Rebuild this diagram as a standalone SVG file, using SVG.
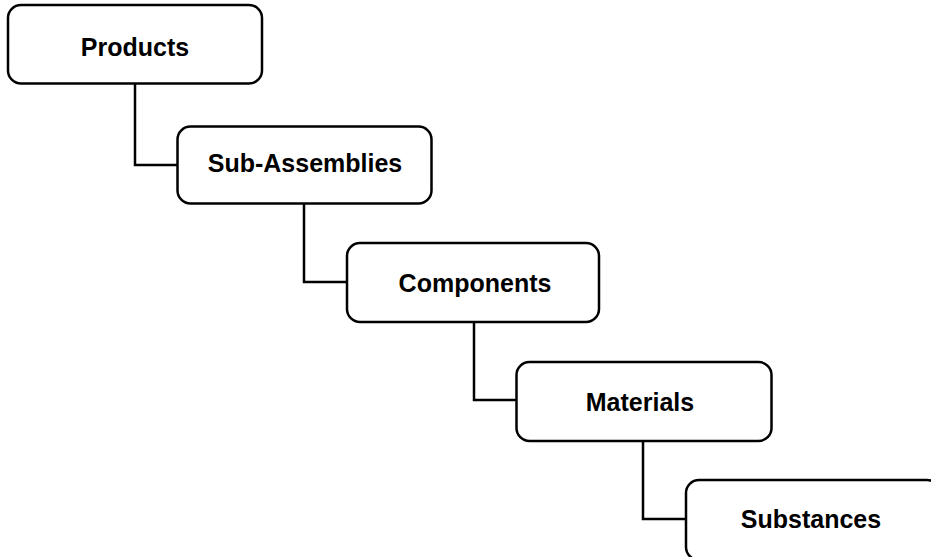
<svg xmlns="http://www.w3.org/2000/svg" width="931" height="557" viewBox="0 0 931 557">
<style>
.box{fill:#fff;stroke:#000;stroke-width:2.5}
.lbl{font-family:"Liberation Sans",Arial,sans-serif;font-weight:bold;font-size:25px;text-anchor:middle;fill:#000}
.con{fill:none;stroke:#000;stroke-width:2.5}
</style>
<rect width="931" height="557" fill="#fff"/>
<g id="connectors">
<path class="con" d="M135,83.5 V165 H177.5"/>
<path class="con" d="M304,203.5 V282 H347"/>
<path class="con" d="M474,322 V400 H516.5"/>
<path class="con" d="M643,441 V519 H686"/>
</g>
<g id="products"><rect class="box" x="8" y="5" width="254" height="78.5" rx="13"/><text class="lbl" x="135" y="56">Products</text></g>
<g id="subassemblies"><rect class="box" x="177.5" y="126.5" width="254" height="77" rx="13"/><text class="lbl" x="305" y="172">Sub-Assemblies</text></g>
<g id="components"><rect class="box" x="347" y="243" width="252" height="79" rx="13"/><text class="lbl" x="475" y="292">Components</text></g>
<g id="materials"><rect class="box" x="516.5" y="362" width="255" height="79" rx="13"/><text class="lbl" x="640" y="411">Materials</text></g>
<g id="substances"><rect class="box" x="686" y="480" width="254" height="80" rx="13"/><text class="lbl" x="811" y="528">Substances</text></g>
</svg>
